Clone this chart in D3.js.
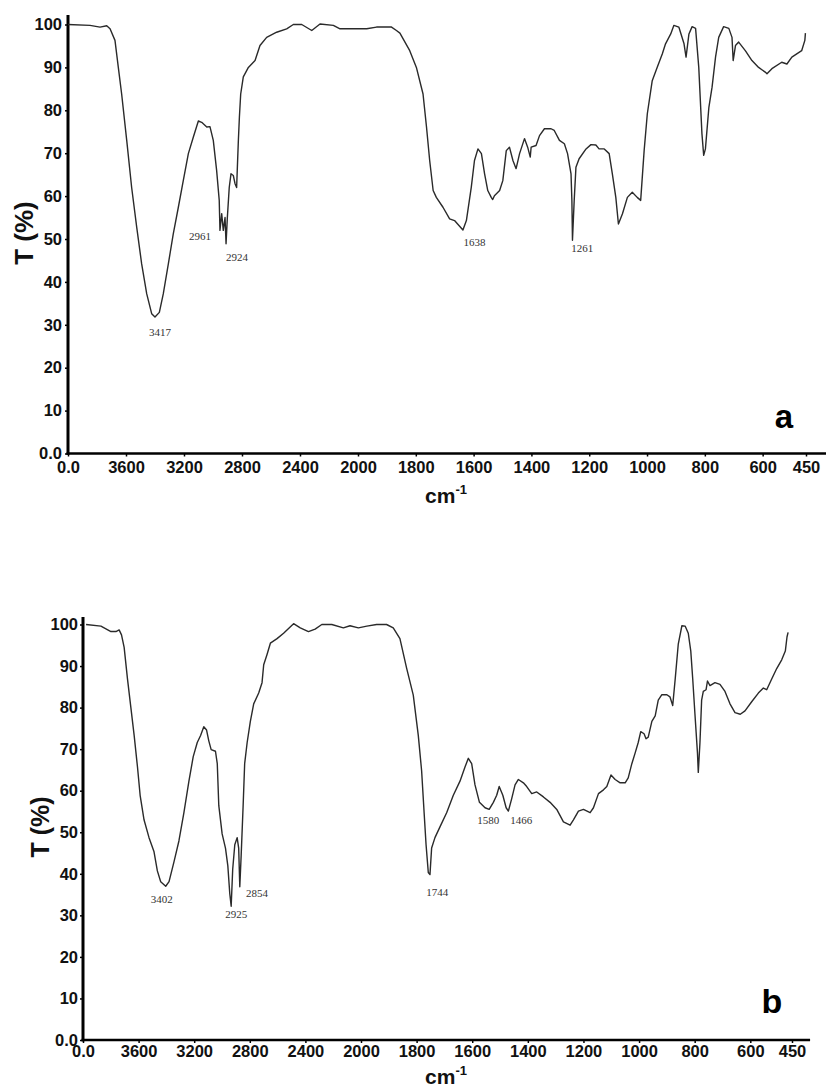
<!DOCTYPE html>
<html><head><meta charset="utf-8">
<script src="https://cdn.jsdelivr.net/npm/d3@7"></script>
<style>body{margin:0;background:#fff}</style>
</head><body>
<svg id="c" width="826" height="1088"></svg>
<script>
// ---------- data ----------
const xTickValues = [4000,3600,3200,2800,2400,2000,1800,1600,1400,1200,1000,800,600,450];
const xTickLabels = ["0.0","3600","3200","2800","2400","2000","1800","1600","1400","1200","1000","800","600","450"];
const yTickValues = [0,10,20,30,40,50,60,70,80,90,100];
const yTickLabels = ["0.0","10","20","30","40","50","60","70","80","90","100"];

const wavenumberA = [4000,3848,3779,3733,3710,3676,3653,3630,3595,3561,3526,3492,3457,3423,3400,3370,3343,3308,3274,3239,3205,3170,3136,3101,3078,3043,3021,2998,2975,2957,2952,2940,2929,2917,2910,2901,2888,2876,2860,2848,2837,2832,2825,2818,2809,2791,2756,2710,2676,2630,2561,2492,2446,2388,2319,2262,2170,2124,1970,1936,1884,1867,1855,1821,1798,1775,1763,1752,1740,1729,1706,1683,1666,1637,1625,1608,1597,1585,1573,1562,1551,1539,1534,1528,1510,1499,1487,1476,1464,1453,1441,1424,1413,1404,1401,1384,1372,1355,1332,1321,1303,1286,1275,1263,1260,1258,1252,1246,1235,1211,1194,1177,1166,1148,1131,1120,1108,1099,1085,1068,1051,1034,1022,1010,999,982,965,947,936,918,907,890,872,865,855,844,832,821,810,804,798,786,775,763,752,735,717,706,702,694,683,660,637,614,591,585,568,534,516,499,465,454,452];
const transmittanceA = [100,99.8,99.4,99.7,99.0,96.3,90.0,83.8,73.0,62.0,52.7,44.2,37.2,32.6,31.8,32.9,37.2,44.2,51.2,57.4,63.6,69.9,73.7,77.5,77.2,76.1,76.2,73.0,66.0,59.0,52.0,55.9,52.0,55.0,48.9,55.0,62.0,65.2,64.8,62.9,62.0,66.7,73.0,78.4,83.8,87.8,90.0,91.6,95.1,97.0,98.2,99.0,100,100,98.6,100.1,99.8,99.0,99.0,99.4,99.4,98.6,98.0,93.9,90.0,83.8,76.1,68.3,61.3,59.7,57.4,54.7,54.3,52.1,54.3,62.1,68.3,71.0,69.9,65.2,61.3,59.7,59.2,60.1,61.3,63.6,70.6,71.4,68.3,66.4,69.9,73.4,71.4,69.1,71.4,71.8,74.1,75.7,75.7,75.3,73.0,72.2,69.9,65.2,59.0,49.7,59.0,66.7,68.7,71.0,72.0,71.9,71.0,71.0,69.9,65.2,59.7,53.5,55.9,59.7,60.9,59.7,59.0,70.6,79.2,86.9,90.0,93.2,95.5,97.8,99.8,99.4,95.5,92.4,97.8,99.5,99.1,90.0,74.5,69.5,71.0,80.7,85.4,92.4,97.0,99.5,99.1,97.0,91.6,95.1,95.9,93.9,91.6,90.0,88.9,88.5,89.7,91.2,90.8,92.4,93.9,96.3,98.0];

const wavenumberB = [3978,3871,3799,3763,3740,3723,3704,3680,3656,3632,3608,3589,3561,3525,3489,3465,3441,3405,3381,3346,3310,3274,3238,3207,3178,3154,3131,3111,3095,3078,3047,3034,3023,2999,2975,2958,2944,2934,2923,2908,2891,2880,2872,2862,2848,2837,2819,2796,2772,2736,2712,2700,2676,2652,2604,2557,2485,2437,2378,2330,2282,2210,2127,2079,2019,1979,1944,1908,1884,1860,1836,1812,1794,1782,1773,1766,1758,1752,1746,1734,1716,1692,1668,1644,1626,1614,1602,1590,1574,1554,1539,1524,1512,1503,1490,1478,1470,1458,1446,1434,1416,1404,1386,1368,1344,1320,1296,1272,1248,1236,1218,1200,1176,1164,1146,1128,1116,1101,1086,1068,1050,1039,1026,1014,1003,994,982,975,967,954,942,931,918,900,889,879,870,859,846,834,823,814,807,799,790,787,781,775,769,759,754,745,727,709,691,673,655,636,619,595,571,553,541,523,505,487,474,468,464];
const transmittanceB = [100,99.6,98.3,98.3,98.7,97.5,94.5,86.9,80.1,73.3,65.7,58.9,53.0,48.7,45.3,40.7,38.1,37.0,38.1,42.8,47.9,54.7,62.3,68.2,71.6,73.3,75.4,74.6,72.0,69.9,69.5,66.5,56.4,49.6,46.2,41.9,35.2,32.2,41.1,47.0,48.7,46.2,36.9,44.5,56.4,66.5,71.6,76.7,80.9,83.5,86.0,90.3,92.8,95.5,96.6,97.9,100.2,99.2,98.3,98.9,100,100,99.2,99.7,99.2,99.6,100,100,99.2,96.6,89.5,83.0,73.3,64.8,54.7,47.0,40.3,39.8,46.2,48.7,51.3,54.7,58.9,62.3,65.7,67.8,66.5,61.4,57.2,55.9,55.5,57.2,58.9,61.0,58.9,55.9,55.1,58.1,61.4,62.7,61.9,61.0,59.3,59.7,58.5,57.2,55.5,52.5,51.7,53.0,55.1,55.5,54.7,55.9,59.3,60.2,61.0,63.8,62.7,61.9,61.9,63.1,66.5,69.1,71.6,74.2,73.7,72.5,72.9,76.7,78.0,81.8,83.1,83.1,82.6,80.5,86.9,95.3,99.7,99.6,97.9,93.6,86.9,78.4,69.1,64.4,71.6,81.8,83.9,84.3,86.4,85.3,86.0,85.6,83.9,80.9,78.8,78.4,79.2,81.4,83.5,84.7,84.3,86.9,89.4,91.5,93.6,97.0,98.1];

// peak annotations: label text and its anchor (wavenumber, T) in data units
const peakTextA = ["3417","2961","2924","1638","1261"];
const peakWnA   = [3365,3090,2834,1597,1224];
const peakTA    = [27.5,49.7,44.8,48.3,46.9];
const peakTextB = ["3402","2925","2854","1744","1580","1466"];
const peakWnB   = [3434,2898,2748,1726,1542,1424];
const peakTB    = [33.0,29.4,34.3,34.6,52.0,52.0];

const panelLetters = ["a","b"];

// ---------- layout ----------
const svg = d3.select("#c");
const SANS = "'Liberation Sans', Arial, Helvetica, sans-serif";
const SERIF = "'Liberation Serif', 'Times New Roman', serif";

const panels = [
  {wn: wavenumberA, t: transmittanceA, pText: peakTextA, pWn: peakWnA, pT: peakTA, letter: panelLetters[0],
   xRange: [68, 358, 806], yRange: [453.5, 24.5], yTop: 15, xEndWn: 378,
   xPad: 5, yPad: 3, yLabelPos: [24, 233], yLabelSize: 26, cmPos: [446, 503], letterPos: [784, 428], letterSize: 33},
  {wn: wavenumberB, t: transmittanceB, pText: peakTextB, pWn: peakWnB, pT: peakTB, letter: panelLetters[1],
   xRange: [83, 361, 792], yRange: [1040, 624.5], yTop: 617, xEndWn: 385,
   xPad: 2.5, yPad: 2, yLabelPos: [40, 827], yLabelSize: 25, cmPos: [446, 1084], letterPos: [772, 1013], letterSize: 34}
];

panels.forEach(p => {
  const x = d3.scaleLinear().domain([4000, 2000, 450]).range(p.xRange);
  const y = d3.scaleLinear().domain([0, 100]).range(p.yRange);
  const g = svg.append("g");

  // x axis
  const xa = g.append("g").attr("transform", `translate(0,${y(0)})`)
    .call(d3.axisBottom(x).tickValues(xTickValues)
      .tickFormat((d, i) => xTickLabels[i]).tickSize(3).tickPadding(p.xPad));
  xa.select(".domain").remove();
  xa.selectAll(".tick line").attr("stroke", "#000").attr("stroke-width", 1.5);
  xa.selectAll(".tick text").attr("font-family", SANS).attr("font-weight", "bold")
    .attr("font-size", 16.5).attr("fill", "#111");
  g.append("line").attr("x1", x(4000) - 1.5).attr("x2", x(p.xEndWn))
    .attr("y1", y(0)).attr("y2", y(0)).attr("stroke", "#000").attr("stroke-width", 2.6);

  // y axis
  const ya = g.append("g").attr("transform", `translate(${x(4000)},0)`)
    .call(d3.axisLeft(y).tickValues(yTickValues)
      .tickFormat((d, i) => yTickLabels[i]).tickSize(3).tickPadding(p.yPad));
  ya.select(".domain").remove();
  ya.selectAll(".tick line").attr("stroke", "#000").attr("stroke-width", 1.5);
  ya.selectAll(".tick text").attr("font-family", SANS).attr("font-weight", "bold")
    .attr("font-size", 16.5).attr("fill", "#111");
  g.append("line").attr("x1", x(4000)).attr("x2", x(4000))
    .attr("y1", p.yTop).attr("y2", y(0) + 1.3).attr("stroke", "#000").attr("stroke-width", 3);

  // spectrum
  const pts = p.wn.map((w, i) => [w, p.t[i]]);
  g.append("path").datum(pts)
    .attr("d", d3.line().x(d => x(d[0])).y(d => y(d[1])))
    .attr("fill", "none").attr("stroke", "#2a2a2a").attr("stroke-width", 1.4)
    .attr("stroke-linejoin", "round");

  // peak labels
  g.selectAll("text.peak").data(p.pText).join("text").attr("class", "peak")
    .attr("x", (d, i) => x(p.pWn[i])).attr("y", (d, i) => y(p.pT[i]))
    .attr("text-anchor", "middle").attr("font-family", SERIF).attr("font-size", 11)
    .attr("fill", "#333").text(d => d);

  // y label
  g.append("text").attr("transform", `translate(${p.yLabelPos[0]},${p.yLabelPos[1]}) rotate(-90)`)
    .attr("text-anchor", "middle").attr("dominant-baseline", "central")
    .attr("font-family", SANS).attr("font-weight", "bold").attr("font-size", p.yLabelSize)
    .attr("fill", "#111").text("T (%)");

  // x label cm-1
  const xl = g.append("text").attr("x", p.cmPos[0]).attr("y", p.cmPos[1])
    .attr("text-anchor", "middle").attr("font-family", SANS).attr("font-weight", "bold").attr("fill", "#111");
  xl.append("tspan").attr("font-size", 21).text("cm");
  xl.append("tspan").attr("font-size", 13).attr("dy", -9).text("-1");

  // panel letter
  g.append("text").attr("x", p.letterPos[0]).attr("y", p.letterPos[1])
    .attr("text-anchor", "middle").attr("font-family", SANS).attr("font-weight", "bold")
    .attr("font-size", p.letterSize).attr("fill", "#000").text(p.letter);
});
</script>
</body></html>
